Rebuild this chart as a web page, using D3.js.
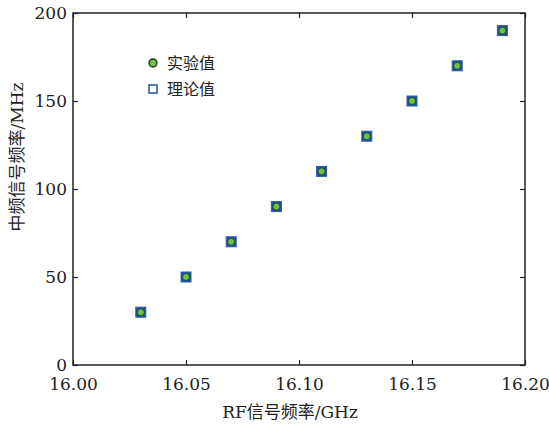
<!DOCTYPE html>
<html>
<head>
<meta charset="utf-8">
<script src="https://cdn.jsdelivr.net/npm/d3@7"></script>
<style>
  body { margin: 0; background: #fff; }
  svg text { font-family: "DejaVu Serif", "Liberation Serif", serif; fill: #222; }
  .cjk { font-family: "DejaVu Serif", "Noto Sans CJK SC", serif; }
</style>
</head>
<body>
<svg width="549" height="430"></svg>
<script>
// 数据
const rfFreq = [16.03, 16.05, 16.07, 16.09, 16.11, 16.13, 16.15, 16.17, 16.19];
const ifMeasured = [30, 50, 70, 90, 110, 130, 150, 170, 190];
const ifTheory = [30, 50, 70, 90, 110, 130, 150, 170, 190];
const xTicks = [16.00, 16.05, 16.10, 16.15, 16.20];
const yTicks = [0, 50, 100, 150, 200];
const legendLabels = ["实验值", "理论值"];

const svg = d3.select("svg");
const margin = { top: 13, right: 24, bottom: 65, left: 73 };
const width = +svg.attr("width") - margin.left - margin.right;
const height = +svg.attr("height") - margin.top - margin.bottom;
const g = svg.append("g").attr("transform", `translate(${margin.left},${margin.top})`);

const x = d3.scaleLinear().domain([16.0, 16.2]).range([0, width]);
const y = d3.scaleLinear().domain([0, 200]).range([height, 0]);

// 边框
g.append("rect")
    .attr("width", width).attr("height", height)
    .attr("fill", "none").attr("stroke", "#222").attr("stroke-width", 1.5);

// 坐标轴 (刻度朝内)
const axisStyle = sel => {
    sel.attr("font-family", null);
    sel.select(".domain").remove();
    sel.selectAll(".tick line").attr("stroke", "#222").attr("stroke-width", 1.2);
    sel.selectAll(".tick text").style("font-size", "17px").attr("fill", "#222");
};
g.append("g").attr("transform", `translate(0,${height})`)
    .call(d3.axisBottom(x).tickValues(xTicks).tickFormat(d3.format(".2f")).tickSizeInner(-5).tickSizeOuter(0).tickPadding(13))
    .call(axisStyle);
g.append("g")
    .call(d3.axisTop(x).tickValues(xTicks).tickFormat("").tickSizeInner(-5).tickSizeOuter(0))
    .call(axisStyle);
g.append("g")
    .call(d3.axisLeft(y).tickValues(yTicks).tickSizeInner(-5).tickSizeOuter(0).tickPadding(6))
    .call(axisStyle);
g.append("g").attr("transform", `translate(${width},0)`)
    .call(d3.axisRight(y).tickValues(yTicks).tickFormat("").tickSizeInner(-5).tickSizeOuter(0))
    .call(axisStyle);

// 理论值 (方块)
g.selectAll(".sq")
    .data(rfFreq.map((f, i) => [f, ifTheory[i]]))
    .enter().append("rect")
    .attr("class", "sq")
    .attr("x", d => x(d[0]) - 5).attr("y", d => y(d[1]) - 5)
    .attr("width", 10).attr("height", 10)
    .attr("fill", "#1f4fa0").attr("stroke", "#2a5cb0").attr("stroke-width", 1);

// 实验值 (圆点)
g.selectAll(".pt")
    .data(rfFreq.map((f, i) => [f, ifMeasured[i]]))
    .enter().append("circle")
    .attr("class", "pt")
    .attr("cx", d => x(d[0])).attr("cy", d => y(d[1]))
    .attr("r", 3.5)
    .attr("fill", "#6cc242").attr("stroke", "#1a3a1a").attr("stroke-width", 0.8);

// 图例
const legend = svg.append("g").attr("transform", "translate(153,63)");
legend.append("circle").attr("cx", 0).attr("cy", 0).attr("r", 4)
    .attr("fill", "#6cc242").attr("stroke", "#222").attr("stroke-width", 1.3);
legend.append("rect").attr("x", -4).attr("y", 22).attr("width", 8).attr("height", 8)
    .attr("fill", "#fff").attr("stroke", "#2a5cb0").attr("stroke-width", 1.6);
legend.selectAll("text.lab")
    .data(legendLabels)
    .enter().append("text")
    .attr("class", "cjk lab")
    .attr("x", 14).attr("y", (d, i) => i * 26 + 6)
    .style("font-size", "16px")
    .text(d => d);

// 轴标题
svg.append("text")
    .attr("class", "cjk")
    .attr("x", 290).attr("y", 418)
    .attr("text-anchor", "middle")
    .style("font-size", "17px")
    .text("RF信号频率/GHz");
svg.append("text")
    .attr("class", "cjk")
    .attr("transform", "translate(23,157) rotate(-90)")
    .attr("text-anchor", "middle")
    .style("font-size", "17px")
    .text("中频信号频率/MHz");
</script>
</body>
</html>
